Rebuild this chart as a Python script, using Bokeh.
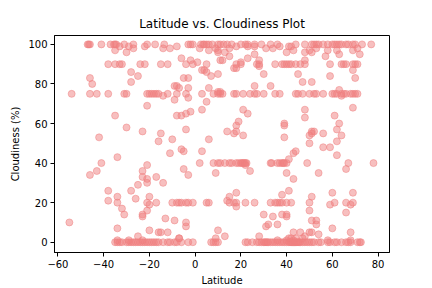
from bokeh.plotting import figure
from bokeh.models import Range1d, FixedTicker
from bokeh.embed import file_html
from bokeh.resources import INLINE

# cities at 100% cloudiness
lat_c100 = [-47, -46.5, -46, -41, -37, -35.5, -35, -34.5, -31, -27, -21, -17.5, -13.5, -3, -2, -1,
            2.5, 3.5, 4, 5, 6, 7.5, 10, 11, 12.5, 14, 16, 20, 22, 23, 26, 29, 33, 36, 44, 48, 51,
            52, 53, 54, 56, 58, 60, 61, 62, 63, 64, 66, 67, 69, 70, 73, 77]
# cities at 90%
lat_c90 = [-38, -35, -33, -32, -24, -22, -15, -12, -4, 5, 18, 20, 27, 28, 35, 38, 39, 40, 41, 42,
           44, 46, 48, 59, 64, 65, 66, 69, 70, 71]
# cities at 75%
lat_c75 = [-54, -46, -43, -38, -31, -30, -21, -20, -19, -18, -17, -16, -12, -8, -4, 3, 8, 10, 11,
           12, 17, 18, 21, 24, 26, 27, 30, 35, 37, 44, 45, 47, 50, 52, 53, 56, 60, 61, 62, 64, 65,
           66, 68, 69, 70, 71]
# cities at 40%
lat_c40 = [2, 8, 10, 11, 13, 15, 16, 18, 19, 20, 20.5, 21, 21.5, 22, 22.5, 33, 33.5, 36, 37, 38,
           38.5, 39, 40, 49, 67, 78]
# cities at 20%
lat_c20 = [-34, -21, -17, -10, -8, -7, -6, -4, -3, -1, 5, 6, 15, 17, 18, 22, 26, 33, 35, 36, 37,
           38, 40, 42, 50, 61, 66, 69]
# cities at 0%
lat_c0 = [-35, -34, -33, -32, -30, -29, -28, -27, -26, -25, -24, -23, -22, -21, -20, -19, -18, -17,
          -16, -14, -12, -11, -9, -8, -6, -3, -1, 7, 8, 9, 10, 22, 23, 25, 27, 28, 29, 30, 30.5, 31,
          31.5, 32, 33, 34, 35, 36, 37, 38, 39, 40, 41, 41.5, 42, 42.5, 43, 43.5, 44, 44.5, 45,
          45.5, 46, 47, 48, 49, 50, 51, 52, 54, 55, 58, 59, 61, 62, 64, 66, 67, 68, 71, 72, 72.5]
# cities at other cloudiness values
lat_other = [-35, -30, -33, -29, -27, -22, -14, -11, -8, 2, 6, 9, 10, 10, 13, 15, 18, 23, 26, 31,
             34, 37, 40, 42, 43, 50, 51, 53, 57, 58, 62, 63, 69, 71, 72,
             -28, -28, -25, -6, -2, -1, 1, 3, 4, 5, 7, 10, 11, 12, 15, 17, 18, 20, 23, 26, 28, 28,
             30, 41, 45, 47, 48, 48, 51, 59, 69, 70, 63,
             -45, -46, -9, -8, -7, -9, -14, -5, -3, -3, -3, 6, 10, 11, 26, 33, 64, -21,
             -35, -8, -6, -4, -2, 3, 5, 21, 23, 48, 48, 61, 69, 19, 18, 39, 39, 63, 62, 51, 52,
             50, 51, 56, 64, -30, -4, -23, -15, 14, 18, 17, 21, 39, -42, -16, -10, 6, 50, 62, 56,
             59, 62, -6, -5, -11, 3, 43, 44, 41, 54, 66, 40, -34, -41, -43, -46, -23, -21, -5, -3,
             -23, -21, -21, -17, -14, -25, 24, 43, 9, 22,
             -38, -28, -26, -38, -34, -32, -31, -20, -20, -21, -23, -23, 14, 15, 18, 18, 38, 41,
             51, 50, 59, 60, 68, 69, 66, 30, 32, 31, 34, 36, 38, 40, 40, 51, 53, 53, 54, 60, 68,
             43, 46, 50, 51, 28, 13, 10, 9, -55, -34, -20, -16, -15, -13, -9, -12, -7, -7, -4, -4,
             -25,
             -34, -23, -29, 36, 40, 41, 42, 43, 44, 47, 58, 68, 48]
cloud_other = [97, 96, 99, 99, 98, 99, 98, 98, 99, 98, 97, 98, 97, 96, 96, 98, 99, 99, 99, 98,
               98, 99, 96, 99, 97, 97, 96, 98, 94, 97, 97, 95, 97, 98, 95,
               86, 81, 84, 93, 92, 90, 91, 87, 87, 86, 84, 85, 92, 92, 94, 88, 88, 91, 93, 95, 92,
               89, 85, 99, 85, 81, 92, 96, 81, 84, 87, 83, 77,
               80, 83, 79, 79, 78, 72, 74, 83, 83, 78, 73, 78, 76, 76, 79, 79, 74, 69,
               64, 64, 64, 65, 66, 67, 71, 67, 65, 67, 63, 64, 68, 61, 59, 60, 59, 60, 57, 56, 56,
               54, 55, 55, 54, 58, 57, 56, 55, 56, 56, 55, 54, 53, 53, 51, 52, 52, 50, 51, 48, 48,
               44, 47, 46, 45, 46, 45, 46, 42, 35, 37, 35, 43, 40, 36, 34, 36, 39, 37, 34, 33, 32,
               30, 33, 30, 29, 36, 32, 35, 39,
               26, 26, 22, 21, 23, 17, 14, 23, 19, 16, 14, 13, 21, 23, 18, 25, 24, 26, 23, 16, 19,
               25, 19, 25, 15, 14, 9, 8, 13, 9, 14, 14, 13, 11, 11, 9, 4, 7, 5, 5, 5, 5, 5, 3, 3,
               6, 2, 10, 7, 6, 5, 5, 12, 11, 5, 2, 2, 8, 10, 3,
               1, 1, 1, 1, 1, 2, 2, 1, 2, 2, 1, 1, 3]

lats = lat_c100 + lat_c90 + lat_c75 + lat_c40 + lat_c20 + lat_c0 + lat_other
clouds = ([100] * len(lat_c100) + [90] * len(lat_c90) + [75] * len(lat_c75) + [40] * len(lat_c40)
          + [20] * len(lat_c20) + [0] * len(lat_c0) + cloud_other)

x_ticks = [-60, -40, -20, 0, 20, 40, 60, 80]
y_ticks = [0, 20, 40, 60, 80, 100]

p = figure(width=432, height=288, output_backend="svg", toolbar_location=None,
           x_range=Range1d(-61.5, 85), y_range=Range1d(-5.2, 104.5),
           title="Latitude vs. Cloudiness Plot")
p.min_border_left = 54
p.min_border_right = 43
p.min_border_top = 35
p.min_border_bottom = 35
p.background_fill_color = "white"
p.border_fill_color = "white"
p.outline_line_color = "black"
p.outline_line_width = 1
p.grid.visible = False

p.title.align = "center"
p.title.text_font = "DejaVu Sans"
p.title.text_font_size = "12px"
p.title.text_font_style = "normal"
p.title.text_color = "black"

for ax, lab, ticks in ((p.xaxis, "Latitude", x_ticks), (p.yaxis, "Cloudiness (%)", y_ticks)):
    ax.axis_label = lab
    ax.ticker = FixedTicker(ticks=ticks)
    ax.axis_label_text_font = "DejaVu Sans"
    ax.axis_label_text_font_size = "10px"
    ax.axis_label_text_font_style = "normal"
    ax.axis_label_text_color = "black"
    ax.major_label_text_font = "DejaVu Sans"
    ax.major_label_text_font_size = "10px"
    ax.major_label_text_color = "black"
    ax.minor_tick_line_color = None
    ax.major_tick_out = 4
    ax.major_tick_in = 0
    ax.axis_line_color = "black"
    ax.major_tick_line_color = "black"
    ax.axis_label_standoff = 4
    ax.major_label_standoff = 3

p.scatter(lats, clouds, size=7, fill_color="#F08080", line_color="#F08080",
          fill_alpha=0.5, line_alpha=0.5)

open("out.html", "w").write(file_html(p, INLINE))
